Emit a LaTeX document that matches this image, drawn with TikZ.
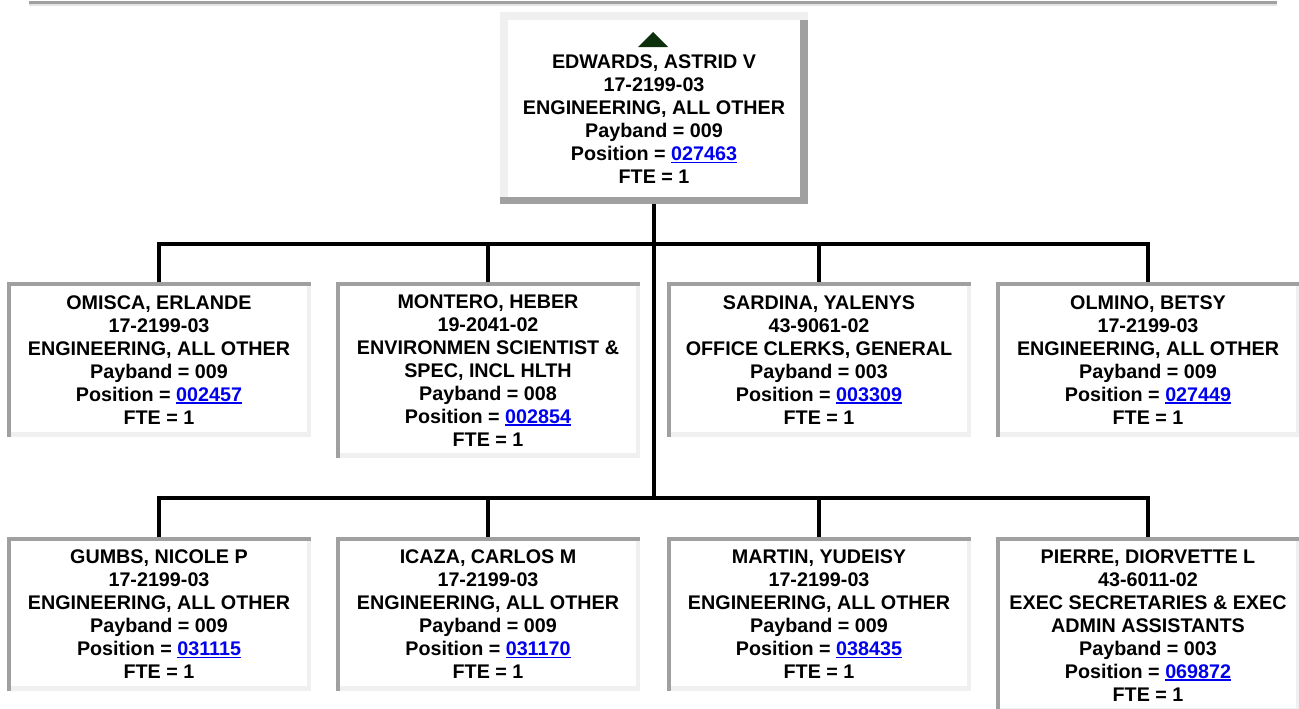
\documentclass[tikz,border=0pt]{standalone}
\usepackage{fontspec}
\setmainfont{Liberation Sans}
\definecolor{bdark}{HTML}{A0A0A0}
\definecolor{blight}{HTML}{F0F0F0}
\definecolor{lineLight}{HTML}{E4E4E4}
\definecolor{linkblue}{HTML}{0000EE}
\definecolor{tricol}{HTML}{0C300C}
\newcommand\poslink[1]{{\color{linkblue}\setbox0\hbox{#1}\rlap{\rule[-1.9pt]{\wd0}{1.1pt}}\box0}}
\tikzset{
  boxtext/.style={align=center, font=\fontsize{14.8pt}{17.25pt}\selectfont\bfseries, inner sep=0pt, text=black},
  childbox/.style={boxtext, rectangle, fill=white, draw=none, anchor=north,
    minimum width=304*0.75pt,
    path picture={
      \fill[bdark] (path picture bounding box.north west) rectangle ([xshift=3pt]path picture bounding box.south west);
      \fill[bdark] (path picture bounding box.north west) rectangle ([yshift=-3pt]path picture bounding box.north east);
      \fill[blight] ([xshift=-3pt,yshift=-3pt]path picture bounding box.north east) rectangle (path picture bounding box.south east);
      \fill[blight] ([xshift=3pt]path picture bounding box.south west) rectangle ([yshift=3.75pt]path picture bounding box.south east);
    }},
  topbox/.style={boxtext, rectangle, fill=white, draw=none,
    minimum width=308*0.75pt, minimum height=192*0.75pt,
    path picture={
      \fill[blight] (path picture bounding box.north west) rectangle ([xshift=6pt]path picture bounding box.south west);
      \fill[blight] (path picture bounding box.north west) rectangle ([yshift=-6pt]path picture bounding box.north east);
      \fill[bdark] ([xshift=-6pt,yshift=-6pt]path picture bounding box.north east) rectangle (path picture bounding box.south east);
      \fill[bdark] (path picture bounding box.south west) rectangle ([yshift=5.5pt]path picture bounding box.south east);
    }},
  conn/.style={draw=black, line width=3pt, line join=miter}
}
\begin{document}
\begin{tikzpicture}[x=0.75pt,y=-0.75pt]
\useasboundingbox (0,0) rectangle (1299,708);
% top rule
\fill[bdark] (29,1) rectangle (1277,4);
\fill[lineLight] (29,4) rectangle (1277,5.5);

% top box
\node[topbox] (top) at (654,108) {\vphantom{E}\\EDWARDS, ASTRID V\\17-2199-03\\ENGINEERING, ALL OTHER\\Payband = 009\\Position = \poslink{027463}\\FTE = 1};
\fill[tricol] (653,32) -- (668,47) -- (638,47) -- cycle;

% row 1
\node[childbox, minimum height=155*0.75pt] (c1) at (159,282) {OMISCA, ERLANDE\\17-2199-03\\ENGINEERING, ALL OTHER\\Payband = 009\\Position = \poslink{002457}\\FTE = 1};
\node[childbox, minimum height=176*0.75pt] (c2) at (488,282) {MONTERO, HEBER\\19-2041-02\\ENVIRONMEN SCIENTIST \&\\SPEC, INCL HLTH\\Payband = 008\\Position = \poslink{002854}\\FTE = 1};
\node[childbox, minimum height=155*0.75pt] (c3) at (819,282) {SARDINA, YALENYS\\43-9061-02\\OFFICE CLERKS, GENERAL\\Payband = 003\\Position = \poslink{003309}\\FTE = 1};
\node[childbox, minimum height=155*0.75pt] (c4) at (1148,282) {OLMINO, BETSY\\17-2199-03\\ENGINEERING, ALL OTHER\\Payband = 009\\Position = \poslink{027449}\\FTE = 1};

% row 2
\node[childbox, minimum height=154*0.75pt] (c5) at (159,537) {GUMBS, NICOLE P\\17-2199-03\\ENGINEERING, ALL OTHER\\Payband = 009\\Position = \poslink{031115}\\FTE = 1};
\node[childbox, minimum height=154*0.75pt] (c6) at (488,537) {ICAZA, CARLOS M\\17-2199-03\\ENGINEERING, ALL OTHER\\Payband = 009\\Position = \poslink{031170}\\FTE = 1};
\node[childbox, minimum height=154*0.75pt] (c7) at (819,537) {MARTIN, YUDEISY\\17-2199-03\\ENGINEERING, ALL OTHER\\Payband = 009\\Position = \poslink{038435}\\FTE = 1};
\node[childbox, minimum height=176*0.75pt] (c8) at (1148,537) {PIERRE, DIORVETTE L\\43-6011-02\\EXEC SECRETARIES \& EXEC\\ADMIN ASSISTANTS\\Payband = 003\\Position = \poslink{069872}\\FTE = 1};

% connectors
\coordinate (bar1) at (654,244);
\coordinate (bar2) at (654,498);
\draw[conn] (top.south) -- (bar2);
\draw[conn] (c1.north) -- (c1.north |- bar1) -- (c4.north |- bar1) -- (c4.north);
\draw[conn] (c2.north) -- (c2.north |- bar1);
\draw[conn] (c3.north) -- (c3.north |- bar1);
\draw[conn] (c5.north) -- (c5.north |- bar2) -- (c8.north |- bar2) -- (c8.north);
\draw[conn] (c6.north) -- (c6.north |- bar2);
\draw[conn] (c7.north) -- (c7.north |- bar2);
\end{tikzpicture}
\end{document}
